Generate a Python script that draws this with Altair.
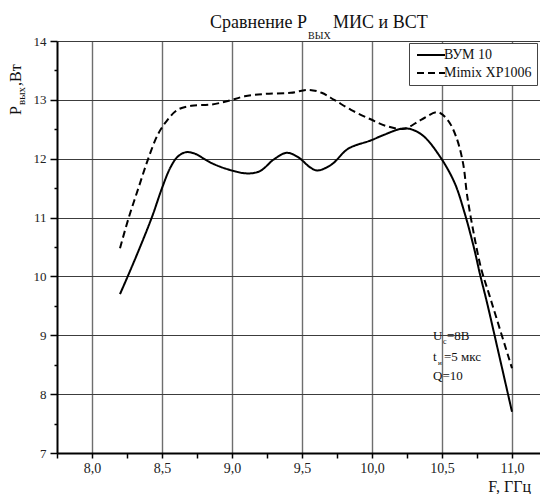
import altair as alt
import pandas as pd

# ---- data ----
series_names = ["ВУМ 10", "Mimix XP1006"]

freq_vum = [8.20, 8.255, 8.34, 8.43, 8.50, 8.56, 8.61, 8.67, 8.73, 8.85, 8.97, 9.11,
            9.20, 9.30, 9.39, 9.47, 9.56, 9.61, 9.71, 9.83, 9.99, 10.09, 10.21,
            10.28, 10.37, 10.49, 10.59, 10.66, 10.73, 10.77, 10.82, 10.91, 11.00]
pout_vum = [9.70, 10.00, 10.48, 11.02, 11.50, 11.85, 12.03, 12.11, 12.09, 11.93, 11.82, 11.75,
            11.79, 11.99, 12.10, 12.03, 11.85, 11.80, 11.90, 12.17, 12.31, 12.41, 12.51,
            12.50, 12.38, 12.02, 11.59, 11.09, 10.47, 10.05, 9.57, 8.64, 7.70]

freq_mimix = [8.20, 8.26, 8.33, 8.40, 8.47, 8.53, 8.61, 8.71, 8.85, 8.97, 9.09, 9.23,
              9.42, 9.55, 9.64, 9.73, 9.85, 9.99, 10.11, 10.23, 10.35, 10.47, 10.54,
              10.60, 10.65, 10.68, 10.73, 10.78, 10.84, 11.00]
pout_mimix = [10.48, 10.98, 11.49, 11.99, 12.41, 12.63, 12.83, 12.90, 12.92, 12.98, 13.06, 13.10,
              13.12, 13.17, 13.12, 13.00, 12.83, 12.67, 12.55, 12.51, 12.66, 12.79, 12.66,
              12.38, 11.93, 11.37, 10.69, 10.13, 9.67, 8.44]

x_tick_values = [7.75, 8.0, 8.25, 8.5, 8.75, 9.0, 9.25, 9.5, 9.75, 10.0, 10.25,
                 10.5, 10.75, 11.0]
y_tick_values = [7, 7.5, 8, 8.5, 9, 9.5, 10, 10.5, 11, 11.5, 12, 12.5, 13, 13.5, 14]

title_main = "Сравнение P"
title_sub = "ВЫХ"
title_rest = "МИС и ВСТ"
ylab_main = "P"
ylab_sub = "вых"
ylab_rest = ",Вт"
xlab = "F, ГГц"
note_u, note_u_sub, note_u_rest = "U", "с", "=8В"
note_t, note_t_sub, note_t_rest = "t", "и", "=5 мкс"
note_q = "Q=10"

FONT = "Liberation Serif, Times New Roman, serif"

df = pd.concat([
    pd.DataFrame({"F": freq_vum, "P": pout_vum, "series": series_names[0]}),
    pd.DataFrame({"F": freq_mimix, "P": pout_mimix, "series": series_names[1]}),
], ignore_index=True)

x_scale = alt.Scale(domain=[7.75, 11.2], nice=False, zero=False)
y_scale = alt.Scale(domain=[7, 14], nice=False, zero=False)

x_axis = alt.Axis(
    values=x_tick_values,
    labelExpr="(datum.value*2 == round(datum.value*2)) ? replace(format(datum.value, '.1f'), '.', ',') : ''",
    grid=True,
    gridOpacity={"condition": {"test": "datum.value*2 == round(datum.value*2)", "value": 1}, "value": 0},
    gridColor="#6e6e6e", gridWidth=1.4,
    domainColor="black", domainWidth=2,
    tickColor="black", tickWidth=1.5, tickSize=5,
    labelFont=FONT, labelFontSize=14, labelColor="#222",
    labelPadding=3, labelOverlap=False, labelFlush=False,
    title=None,
)
y_axis = alt.Axis(
    values=y_tick_values,
    labelExpr="(datum.value == round(datum.value)) ? format(datum.value, 'd') : ''",
    grid=True,
    gridOpacity={"condition": {"test": "datum.value == round(datum.value)", "value": 1}, "value": 0},
    gridColor="#3c3c3c", gridWidth=1.2,
    domainColor="black", domainWidth=2,
    tickColor="black", tickWidth=1.5,
    tickSize={"condition": {"test": "datum.value == round(datum.value)", "value": 7}, "value": 3},
    labelFont=FONT, labelFontSize=13, labelColor="#222",
    labelPadding=4, labelOverlap=False, labelFlush=False,
    title=None,
)

lines = alt.Chart(df).mark_line(interpolate="catmull-rom", strokeWidth=2, color="black").encode(
    x=alt.X("F:Q", scale=x_scale, axis=x_axis),
    y=alt.Y("P:Q", scale=y_scale, axis=y_axis),
    strokeDash=alt.StrokeDash(
        "series:N",
        scale=alt.Scale(domain=series_names, range=[[1, 0], [7, 4]]),
        legend=alt.Legend(
            orient="none", legendX=352, legendY=2, title=None,
            symbolType="M-2.8,0H2.8", symbolSize=100, symbolStrokeWidth=2,
            symbolStrokeColor="black", symbolOffset=10, labelOffset=6,
            labelFont=FONT, labelFontSize=14, labelColor="#111",
            strokeColor="#444", fillColor="white", padding=5, rowPadding=4,
            cornerRadius=0,
        ),
    ),
    detail="series:N",
)


def txt(s, x, y, size, align="left", angle=0, color="#111"):
    return alt.Chart(pd.DataFrame({"t": [s]})).mark_text(
        font=FONT, fontSize=size, align=align, baseline="alphabetic",
        angle=angle, color=color,
    ).encode(x=alt.value(x), y=alt.value(y), text="t:N")


texts = [
    txt(title_main, 250, -13, 18, align="right"),
    txt(title_sub, 251, -2, 10),
    txt(title_rest, 276, -13, 18),
    txt(ylab_main, -36, 74, 16, angle=270),
    txt(ylab_sub, -32, 64, 11, angle=270),
    txt(ylab_rest, -36, 45, 16, angle=270),
    txt(xlab, 474, 451, 16, align="right"),
    txt(note_u, 376, 299, 13),
    txt(note_u_sub, 386, 303, 8),
    txt(note_u_rest, 390, 299, 13),
    txt(note_t, 376, 320, 13),
    txt(note_t_sub, 381, 324, 7),
    txt(note_t_rest, 387, 320, 13),
    txt(note_q, 376, 339, 13),
]

chart = alt.layer(lines, *texts).properties(
    width=483, height=412,
    autosize=alt.AutoSizeParams(type="none"),
    padding={"left": 49, "top": 33, "right": 0, "bottom": 41},
    background="white",
).configure_view(strokeWidth=0)

chart.save("out.html", embed_options={"renderer": "svg", "actions": False})
